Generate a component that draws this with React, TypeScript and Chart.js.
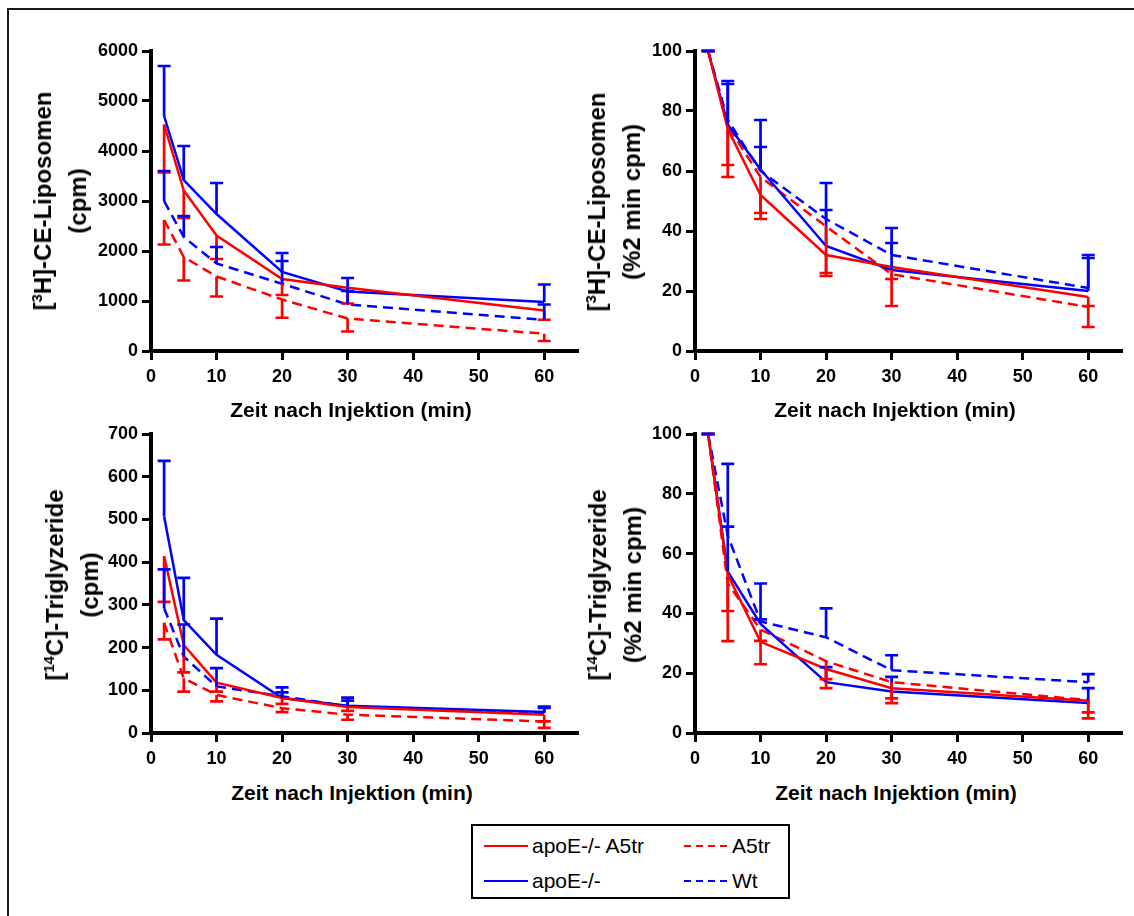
import React, { useEffect, useRef } from "react";
import { Chart, registerables } from "chart.js";

Chart.register(...registerables);

// ---------- data ----------
const times = [2, 5, 10, 20, 30, 60];
const seriesNames = ["apoE-/- A5tr", "apoE-/-", "A5tr", "Wt"];
const xTicks = [0, 10, 20, 30, 40, 50, 60];

// [3H]-CE-Liposomen (cpm): means and error-bar end values
const ceCpmApoeA5tr = [4530, 3210, 2310, 1440, 1265, 810];
const ceCpmApoeA5trEnd = [3570, 2660, 1840, 1120, 950, 625];
const ceCpmApoe = [4700, 3420, 2740, 1580, 1190, 980];
const ceCpmApoeEnd = [5700, 4100, 3360, 1960, 1460, 1330];
const ceCpmA5tr = [2620, 1880, 1490, 1030, 650, 345];
const ceCpmA5trEnd = [2130, 1410, 1090, 665, 390, 200];
const ceCpmWt = [3000, 2280, 1750, 1345, 930, 625];
const ceCpmWtEnd = [3600, 2700, 2080, 1800, 1200, 930];

// [3H]-CE-Liposomen (% 2 min cpm)
const cePctApoeA5tr = [100, 74, 52, 32, 28, 18];
const cePctApoeA5trEnd = [100, 58, 46, 26, 24, 15];
const cePctApoe = [100, 75.5, 60.5, 35, 27, 20];
const cePctApoeEnd = [100, 90, 68, 47, 36, 31];
const cePctA5tr = [100, 75, 58, 41.5, 25.6, 14.7];
const cePctA5trEnd = [100, 62, 44, 25, 15, 8];
const cePctWt = [100, 77, 60, 44, 32, 21];
const cePctWtEnd = [100, 89, 77, 56, 41, 32];

// [14C]-Triglyzeride (cpm)
const tgCpmApoeA5tr = [414, 206, 118, 82, 61, 43];
const tgCpmApoeA5trEnd = [307, 142, 97, 68, 52, 27];
const tgCpmApoe = [507, 264, 183, 82, 64, 49];
const tgCpmApoeEnd = [637, 363, 268, 107, 83, 62];
const tgCpmA5tr = [258, 128, 89, 58, 43, 27];
const tgCpmA5trEnd = [219, 97, 74, 49, 31, 12];
const tgCpmWt = [292, 179, 109, 86, 62, 47];
const tgCpmWtEnd = [383, 254, 152, 95, 76, 59];

// [14C]-Triglyzeride (% 2 min cpm)
const tgPctApoeA5tr = [100, 53, 30.5, 21.4, 15, 10.8];
const tgPctApoeA5trEnd = [100, 30.7, 23, 15, 10, 4.9];
const tgPctApoe = [100, 54, 36.5, 17, 13.9, 10];
const tgPctApoeEnd = [100, 69, 38, 22, 18.8, 15];
const tgPctA5tr = [100, 50, 34.6, 24, 17, 11];
const tgPctA5trEnd = [100, 40.8, 30.8, 18, 11.6, 6.9];
const tgPctWt = [100, 66, 37.3, 32, 21, 17];
const tgPctWtEnd = [100, 90, 50, 41.7, 26, 19.7];

// ---------- styles ----------
const RED = "#ff0000";
const BLUE = "#0000ff";
const seriesColors = [RED, BLUE, RED, BLUE];
const seriesDashed = [false, false, true, true];
const FONT = '"Liberation Sans", Arial, Helvetica, sans-serif';

type PanelSpec = {
  values: number[][];
  ends: number[][];
  yMax: number;
  yStep: number;
  left: number;
  top: number;
  width: number;
  height: number;
  padRight: number;
};

function PanelChart({ spec }: { spec: PanelSpec }) {
  const ref = useRef<HTMLCanvasElement | null>(null);
  useEffect(() => {
    if (!ref.current) return;
    const errorBars = {
      id: "errorBars",
      afterDatasetsDraw(chart: any) {
        const { ctx } = chart;
        const xs = chart.scales.x;
        const ys = chart.scales.y;
        spec.values.forEach((vals, i) => {
          const ends = spec.ends[i];
          ctx.save();
          ctx.strokeStyle = seriesColors[i];
          ctx.lineWidth = 2.7;
          ctx.setLineDash([]);
          ctx.lineCap = "butt";
          vals.forEach((v, j) => {
            const px = xs.getPixelForValue(times[j]);
            const py = ys.getPixelForValue(v);
            const pe = ys.getPixelForValue(ends[j]);
            ctx.beginPath();
            ctx.moveTo(px, py);
            ctx.lineTo(px, pe);
            ctx.moveTo(px - 6.5, pe);
            ctx.lineTo(px + 6.5, pe);
            ctx.stroke();
          });
          ctx.restore();
        });
      },
    };
    const tickFont = { family: FONT, size: 18, weight: "bold" as const };
    const gridCfg = {
      display: true,
      drawOnChartArea: false,
      drawTicks: true,
      tickLength: 9,
      tickWidth: 3,
      tickColor: "#000",
      color: "#000",
      lineWidth: 3,
    };
    const chart = new Chart(ref.current, {
      type: "line",
      data: {
        datasets: spec.values.map((vals, i) => ({
          label: seriesNames[i],
          data: vals.map((v, j) => ({ x: times[j], y: v })),
          borderColor: seriesColors[i],
          backgroundColor: seriesColors[i],
          borderWidth: 2.5,
          borderDash: seriesDashed[i] ? [10, 6] : [],
          pointRadius: 0,
          tension: 0,
          fill: false,
          clip: false as any,
        })),
      },
      options: {
        responsive: false,
        animation: false,
        layout: { padding: { left: 0, top: 26, right: spec.padRight, bottom: 0 } },
        plugins: { legend: { display: false }, tooltip: { enabled: false } },
        scales: {
          x: {
            type: "linear",
            min: 0,
            max: 65,
            afterFit: (s: any) => {
              s.height = 44;
            },
            afterBuildTicks: (s: any) => {
              s.ticks = xTicks.map((v) => ({ value: v }));
            },
            ticks: {
              font: tickFont,
              color: "#000",
              padding: 6,
              maxRotation: 0,
              autoSkip: false,
              callback: (v: any) => String(v),
            },
            grid: gridCfg,
            border: { display: true, color: "#000", width: 4 },
          },
          y: {
            type: "linear",
            min: 0,
            max: spec.yMax,
            afterFit: (s: any) => {
              s.width = 71;
            },
            ticks: {
              stepSize: spec.yStep,
              font: tickFont,
              color: "#000",
              padding: 4,
              autoSkip: false,
              callback: (v: any) => String(v),
            },
            grid: gridCfg,
            border: { display: true, color: "#000", width: 4 },
          },
        },
      },
      plugins: [errorBars],
    } as any);
    return () => chart.destroy();
  }, [spec]);
  return (
    <canvas
      ref={ref}
      width={spec.width}
      height={spec.height}
      style={{
        position: "absolute",
        left: spec.left,
        top: spec.top,
        width: spec.width,
        height: spec.height,
      }}
    />
  );
}

const panelSpecs: PanelSpec[] = [
  {
    values: [ceCpmApoeA5tr, ceCpmApoe, ceCpmA5tr, ceCpmWt],
    ends: [ceCpmApoeA5trEnd, ceCpmApoeEnd, ceCpmA5trEnd, ceCpmWtEnd],
    yMax: 6000,
    yStep: 1000,
    left: 80,
    top: 25,
    width: 520,
    height: 370,
    padRight: 23,
  },
  {
    values: [cePctApoeA5tr, cePctApoe, cePctA5tr, cePctWt],
    ends: [cePctApoeA5trEnd, cePctApoeEnd, cePctA5trEnd, cePctWtEnd],
    yMax: 100,
    yStep: 20,
    left: 624,
    top: 25,
    width: 506,
    height: 370,
    padRight: 9,
  },
  {
    values: [tgCpmApoeA5tr, tgCpmApoe, tgCpmA5tr, tgCpmWt],
    ends: [tgCpmApoeA5trEnd, tgCpmApoeEnd, tgCpmA5trEnd, tgCpmWtEnd],
    yMax: 700,
    yStep: 100,
    left: 80,
    top: 408,
    width: 520,
    height: 369,
    padRight: 23,
  },
  {
    values: [tgPctApoeA5tr, tgPctApoe, tgPctA5tr, tgPctWt],
    ends: [tgPctApoeA5trEnd, tgPctApoeEnd, tgPctA5trEnd, tgPctWtEnd],
    yMax: 100,
    yStep: 20,
    left: 624,
    top: 408,
    width: 506,
    height: 369,
    padRight: 9,
  },
];

const supStyle: React.CSSProperties = {
  fontSize: "0.62em",
  position: "relative",
  top: "-0.6em",
};

function YTitle({ cx, cy, iso, label, line2 }: { cx: number; cy: number; iso: string; label: string; line2: string }) {
  return (
    <div
      style={{
        position: "absolute",
        left: cx,
        top: cy,
        transform: "translate(-50%, -50%) rotate(-90deg)",
        whiteSpace: "nowrap",
        textAlign: "center",
        font: `bold 24px ${FONT}`,
        lineHeight: "31px",
        color: "#000",
      }}
    >
      <div>
        [<span style={supStyle}>{iso}</span>
        {label}
      </div>
      <div>{line2}</div>
    </div>
  );
}

function XTitle({ cx, cy }: { cx: number; cy: number }) {
  return (
    <div
      style={{
        position: "absolute",
        left: cx,
        top: cy,
        transform: "translate(-50%, -50%)",
        whiteSpace: "nowrap",
        font: `bold 21px ${FONT}`,
        color: "#000",
      }}
    >
      Zeit nach Injektion (min)
    </div>
  );
}

function LegendSample({ x, y, color, dashed }: { x: number; y: number; color: string; dashed: boolean }) {
  return (
    <svg width={46} height={6} style={{ position: "absolute", left: x, top: y - 3 }}>
      <line
        x1={0}
        y1={3}
        x2={44}
        y2={3}
        stroke={color}
        strokeWidth={2}
        strokeDasharray={dashed ? "7 5" : undefined}
      />
    </svg>
  );
}

export default function App() {
  const legendItems = [
    { x: 11, ty: 20, i: 0 },
    { x: 11, ty: 55, i: 1 },
    { x: 211, ty: 20, i: 2 },
    { x: 211, ty: 55, i: 3 },
  ];
  return (
    <div
      style={{
        position: "fixed",
        left: 0,
        top: 0,
        width: 1134,
        height: 916,
        overflow: "hidden",
        background: "#fff",
      }}
    >
      <div
        style={{
          position: "absolute",
          left: 7,
          top: 8,
          width: 1200,
          height: 1000,
          border: "2px solid #1a1a1a",
        }}
      />
      {panelSpecs.map((s, k) => (
        <PanelChart key={k} spec={s} />
      ))}
      <YTitle cx={60} cy={201} iso="3" label="H]-CE-Liposomen" line2="(cpm)" />
      <YTitle cx={614} cy={202} iso="3" label="H]-CE-Liposomen" line2="(%2 min cpm)" />
      <YTitle cx={72} cy={585} iso="14" label="C]-Triglyzeride" line2="(cpm)" />
      <YTitle cx={615} cy={585} iso="14" label="C]-Triglyzeride" line2="(%2 min cpm)" />
      <XTitle cx={351} cy={410} />
      <XTitle cx={895} cy={410} />
      <XTitle cx={352} cy={793} />
      <XTitle cx={896} cy={793} />
      <div
        style={{
          position: "absolute",
          left: 471,
          top: 824,
          width: 315,
          height: 71,
          border: "2px solid #000",
        }}
      >
        {legendItems.map((it) => (
          <React.Fragment key={it.i}>
            <LegendSample x={it.x} y={it.ty} color={seriesColors[it.i]} dashed={seriesDashed[it.i]} />
            <div
              style={{
                position: "absolute",
                left: it.x + 48,
                top: it.ty,
                transform: "translateY(-50%)",
                font: `21px ${FONT}`,
                color: "#000",
                whiteSpace: "nowrap",
                lineHeight: "24px",
              }}
            >
              {seriesNames[it.i]}
            </div>
          </React.Fragment>
        ))}
      </div>
    </div>
  );
}
